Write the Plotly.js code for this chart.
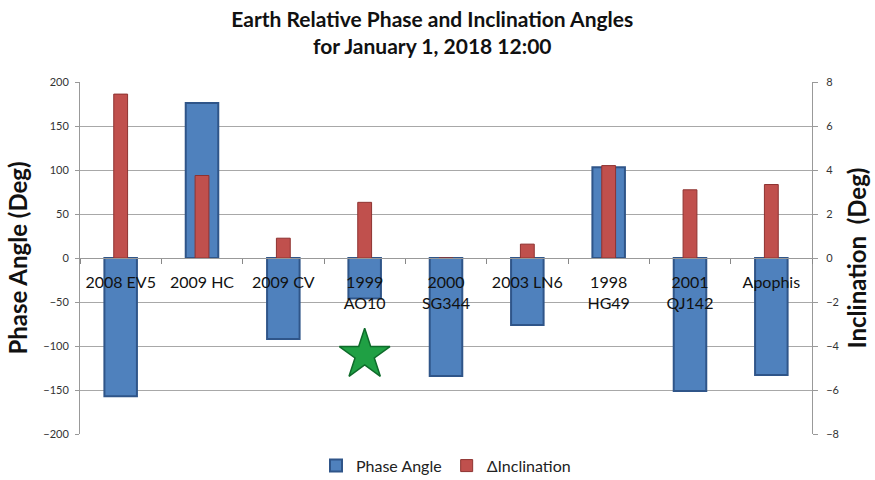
<!DOCTYPE html>
<html>
<head>
<meta charset="utf-8">
<script src="https://cdn.plot.ly/plotly-3.0.1.min.js"></script>
<style>html,body{margin:0;padding:0;background:#fff}#chart{width:875px;height:480px}</style>
</head>
<body>
<div id="chart"></div>
<script>
const categories = ["2008 EV5", "2009 HC", "2009 CV", "1999 AO10", "2000 SG344", "2003 LN6", "1998 HG49", "2001 QJ142", "Apophis"];
const tickLabels = ["2008 EV5", "2009 HC", "2009 CV", "1999<br>AO10", "2000<br>SG344", "2003 LN6", "1998<br>HG49", "2001<br>QJ142", "Apophis"];
const phaseAngle = [-157, 176, -92, -46, -134, -76, 103, -151, -133];
const deltaInclination = [7.45, 3.75, 0.9, 2.53, 0, 0.63, 4.2, 3.1, 3.34];
const starCategory = ["1999 AO10"];
const starPhase = [-110];

const FONT = "Lato, 'Open Sans', sans-serif";

const traces = [
  {
    type: "bar", name: "Phase Angle", x: categories, y: phaseAngle,
    width: 0.4,
    marker: {color: "#4F81BD", line: {color: "#2F5589", width: 2}},
    yaxis: "y", xaxis: "x"
  },
  {
    type: "bar", name: "\u0394Inclination", x: categories, y: deltaInclination,
    width: 0.17,
    marker: {color: "#C0504D", line: {color: "#8E3230", width: 1}},
    yaxis: "y2", xaxis: "x"
  },
  {
    type: "scatter", mode: "markers", x: starCategory, y: starPhase,
    showlegend: false, yaxis: "y", xaxis: "x",
    marker: {symbol: "star", size: 38, color: "#1FA044", line: {color: "#0E6B2A", width: 1.5}}
  }
];

const layout = {
  width: 875, height: 480,
  margin: {l: 80, r: 63, t: 82, b: 46, autoexpand: false},
  paper_bgcolor: "#fff", plot_bgcolor: "#fff",
  font: {family: FONT, color: "#111"},
  title: {
    text: "<b>Earth Relative Phase and Inclination Angles<br>for January 1, 2018 12:00</b>",
    font: {family: FONT, size: 21, color: "#111"},
    x: 0.494, xanchor: "center", y: 0.944, yanchor: "top"
  },
  barmode: "overlay",
  showlegend: true,
  legend: {
    orientation: "h", x: 0.5, xanchor: "center", y: -0.09, yanchor: "middle",
    font: {family: FONT, size: 16, color: "#222"}, itemwidth: 30, traceorder: "normal"
  },
  xaxis: {
    type: "category",
    tickvals: categories, ticktext: tickLabels,
    anchor: "free", position: 0.5,
    showline: true, linecolor: "#999", linewidth: 1,
    ticks: "outside", tickson: "boundaries", ticklen: 5, tickcolor: "#888",
    showgrid: false, tickangle: 0,
    tickfont: {family: FONT, size: 16, color: "#111"},
    ticklabelstandoff: 10,
    range: [-0.5, 8.5]
  },
  yaxis: {
    range: [-200, 200], dtick: 50,
    showgrid: true, gridcolor: "#a8a8a8", gridwidth: 1,
    zeroline: false,
    showline: true, linecolor: "#999", linewidth: 1,
    ticks: "outside", ticklen: 4, tickcolor: "#999",
    ticklabelstandoff: 4,
    tickfont: {family: FONT, size: 11, color: "#333"},
    title: {text: "<b>Phase Angle (Deg)</b>", font: {family: FONT, size: 24, color: "#111"}, standoff: 8}
  },
  yaxis2: {
    range: [-8, 8], dtick: 2,
    overlaying: "y", side: "right",
    showgrid: false, zeroline: false,
    showline: true, linecolor: "#999", linewidth: 1,
    ticks: "outside", ticklen: 5, tickcolor: "#999",
    ticklabelstandoff: 6,
    tickfont: {family: FONT, size: 11, color: "#333"},
    title: {text: "<b>Inclination  (Deg)</b>", font: {family: FONT, size: 24, color: "#111"}, standoff: 10}
  }
};

Plotly.newPlot("chart", traces, layout, {displayModeBar: false, staticPlot: true});
</script>
</body>
</html>
